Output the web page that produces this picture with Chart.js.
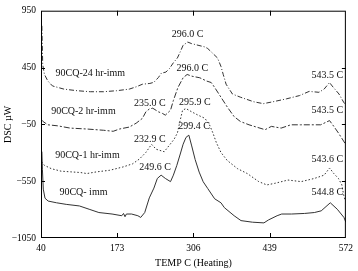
<!DOCTYPE html>
<html>
<head>
<meta charset="utf-8">
<script src="https://cdn.jsdelivr.net/npm/chart.js@4"></script>
<style>
  html, body { margin: 0; padding: 0; background: #fff; }
  #wrap { width: 358px; height: 271px; }
</style>
</head>
<body>
<div id="wrap"><canvas id="dsc"></canvas></div>
<script>
// Axis ticks
const X_TICKS = [40, 173, 306, 439, 572];
const Y_TICKS = [-1050, -550, -50, 450, 950];

// 90CQ-24 hr-imm (dash-dot, top)
const T_24H = [41.5, 43, 46, 52, 60, 80, 103, 126, 149, 172, 194, 206, 217, 230, 237, 245, 250, 258, 264, 271, 278, 283, 288, 296, 303, 314, 326, 331, 337, 348, 354, 358, 363, 374, 388, 411, 428, 445, 468, 491, 508, 525, 534, 543.5, 548, 560, 568, 572];
const D_24H = [817, 474, 389, 331, 288, 260, 246, 237, 237, 246, 260, 280, 303, 310, 320, 363, 400, 410, 440, 492, 534, 588, 646, 674, 660, 646, 631, 617, 588, 534, 460, 389, 303, 217, 189, 149, 132, 149, 174, 203, 240, 232, 260, 318, 288, 217, 146, 117];

// 90CQ-2 hr-imm (dash-dot)
const T_2H = [41, 43, 52, 69, 91, 120, 149, 166, 177, 194, 206, 217, 223, 229, 235, 245, 252, 257, 266, 271, 279, 288, 295, 303, 317, 329, 337, 343, 354, 365, 377, 388, 403, 431, 442, 459, 476, 493, 517, 528, 543.5, 551, 559, 568, 572];
const D_2H = [-12, -23, -54, -63, -83, -91, -102, -111, -91, -74, -40, 3, 60, 85, 92, 60, 46, 31, 74, 160, 275, 360, 389, 374, 360, 331, 318, 275, 189, 103, 18, -25, -54, -97, -68, -83, -54, -54, -54, -54, -17, -68, -126, -197, -230];

// 90CQ-1 hr-imm (dotted)
const T_1H = [41, 46, 58, 75, 92, 109, 120, 137, 160, 183, 200, 212, 223, 232.9, 241, 255, 263, 272, 278, 283, 287, 293, 303, 314, 326, 334, 340, 346, 354, 365, 383, 400, 420, 434, 448, 471, 494, 517, 534, 543.6, 551, 559, 565, 568, 571];
const D_1H = [-380, -411, -440, -462, -468, -474, -483, -468, -454, -425, -397, -354, -297, -226, -269, -291, -240, -183, -126, -12, 74, 89, 60, 31, 3, -54, -126, -211, -297, -368, -440, -483, -554, -583, -569, -540, -554, -526, -497, -434, -483, -526, -583, -668, -725];

// 90CQ- imm (solid, bottom)
const T_IMM = [41.5, 42.5, 44, 47, 52.5, 67, 84, 107, 124, 141, 164, 181, 184, 186.6, 189, 198, 209, 214, 221, 229, 237, 243, 249.6, 257, 266, 271, 277, 283, 288, 293, 298, 303, 309, 316, 323, 331, 343, 354, 360, 377, 389, 409, 429, 437, 452, 460, 477, 500, 517, 529, 544.8, 557, 568.6, 572];
const D_IMM = [-290, -450, -620, -700, -725, -740, -754, -768, -797, -826, -839, -854, -834, -863, -839, -839, -854, -869, -826, -697, -611, -526, -497, -526, -554, -497, -411, -311, -225, -165, -145, -240, -360, -470, -555, -615, -705, -740, -783, -854, -897, -911, -917, -891, -854, -839, -839, -834, -826, -811, -740, -797, -869, -911];

// Peak / curve annotations in data coordinates
const NOTE_TEXT = ["90CQ-24 hr-imm", "90CQ-2 hr-imm", "90CQ-1 hr-imm", "90CQ- imm",
  "296.0 C", "296.0 C", "235.0 C", "295.9 C", "232.9 C", "299.4 C", "249.6 C",
  "543.5 C", "543.5 C", "543.6 C", "544.8 C"];
const NOTE_T = [126, 114, 121, 114, 296, 304, 230, 308.6, 230, 307, 239, 539.5, 539.5, 539.5, 539.5];
const NOTE_V = [397, 67, -327, -648, 744, 444, 132, 144, -181, -70, -426, 384, 76, -357, -648];

const SERIF = "'Liberation Serif', 'Times New Roman', serif";
const INK = "#333";

const pts = (ts, ds) => ts.map((t, i) => ({ x: t, y: ds[i] }));
const fmt = v => v < 0 ? "\u2212" + Math.abs(v) : String(v);

function series(ts, ds, dash) {
  return { data: pts(ts, ds), showLine: true, borderColor: INK, borderWidth: 1,
           borderDash: dash, pointRadius: 0, tension: 0, fill: false };
}

// Box frame, inward tick marks and the text notes.
const frame = {
  id: "frame",
  afterDatasetsDraw(chart) {
    const { ctx, chartArea: a, scales: { x, y } } = chart;
    ctx.save();
    ctx.strokeStyle = "#000"; ctx.lineWidth = 1;
    ctx.strokeRect(a.left + 0.5, a.top + 0.5, a.right - a.left - 1, a.bottom - a.top - 1);
    ctx.beginPath();
    for (const v of X_TICKS.slice(1, -1)) {
      const px = Math.round(x.getPixelForValue(v)) + 0.5;
      ctx.moveTo(px, a.bottom); ctx.lineTo(px, a.bottom - 5);
      ctx.moveTo(px, a.top); ctx.lineTo(px, a.top + 5);
    }
    for (const v of Y_TICKS.slice(1, -1)) {
      const py = Math.round(y.getPixelForValue(v)) + 0.5;
      ctx.moveTo(a.left, py); ctx.lineTo(a.left + 4, py);
      ctx.moveTo(a.right, py); ctx.lineTo(a.right - 4, py);
    }
    ctx.stroke();
    ctx.font = "10px " + SERIF; ctx.fillStyle = "#111";
    ctx.textAlign = "center"; ctx.textBaseline = "middle";
    NOTE_TEXT.forEach((s, i) => ctx.fillText(s, x.getPixelForValue(NOTE_T[i]), y.getPixelForValue(NOTE_V[i])));
    ctx.restore();
  }
};

const tickFont = { family: SERIF, size: 9.5 };
const titleFont = { family: SERIF, size: 10 };

new Chart(document.getElementById("dsc"), {
  type: "scatter",
  data: {
    datasets: [
      series(T_24H, D_24H, [5, 2, 1, 2]),
      series(T_2H, D_2H, [6, 2, 2, 2]),
      series(T_1H, D_1H, [1.5, 2]),
      series(T_IMM, D_IMM, [])
    ]
  },
  options: {
    responsive: true, maintainAspectRatio: false, animation: false,
    layout: { padding: { top: 4, right: 6, left: 0, bottom: 0 } },
    plugins: { legend: { display: false }, tooltip: { enabled: false } },
    scales: {
      x: {
        type: "linear", min: 40, max: 572,
        afterBuildTicks: s => { s.ticks = X_TICKS.map(v => ({ value: v })); },
        afterFit: s => { s.height = 33; },
        grid: { display: false, drawTicks: false }, border: { display: false },
        ticks: { font: tickFont, color: "#000", padding: 5, maxRotation: 0, autoSkip: false, callback: fmt },
        title: { display: true, text: "TEMP C (Heating)", font: titleFont, color: "#000", padding: { top: 0, bottom: 2 } }
      },
      y: {
        type: "linear", min: -1050, max: 950,
        afterBuildTicks: s => { s.ticks = Y_TICKS.map(v => ({ value: v })); },
        afterFit: s => { s.width = 41; },
        grid: { display: false, drawTicks: false }, border: { display: false },
        ticks: { font: tickFont, color: "#000", padding: 5, autoSkip: false, callback: fmt },
        title: { display: true, text: "DSC \u00b5W", font: titleFont, color: "#000", padding: { top: 2, bottom: 0 } }
      }
    }
  },
  plugins: [frame]
});
</script>
</body>
</html>
